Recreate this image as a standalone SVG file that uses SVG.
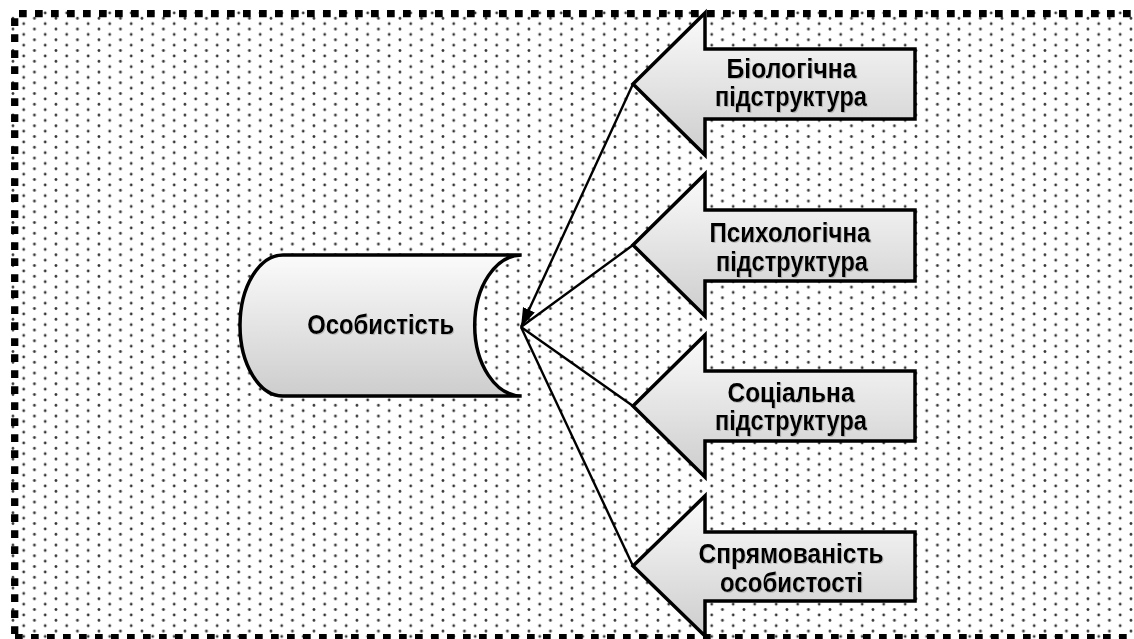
<svg xmlns="http://www.w3.org/2000/svg" width="1134" height="639" viewBox="0 0 1134 639">
<defs>
<pattern id="dots" patternUnits="userSpaceOnUse" x="2.2" y="2.2" width="21.5" height="10.75">
<circle cx="0" cy="0" r="1.4" fill="#333"/>
<circle cx="21.5" cy="0" r="1.4" fill="#333"/>
<circle cx="0" cy="10.75" r="1.4" fill="#333"/>
<circle cx="21.5" cy="10.75" r="1.4" fill="#333"/>
<circle cx="10.75" cy="5.375" r="1.4" fill="#333"/>
</pattern>
<linearGradient id="shade" x1="0" y1="0" x2="0" y2="1">
<stop offset="0" stop-color="#fbfbfb"/>
<stop offset="1" stop-color="#cdcdcd"/>
</linearGradient>
<filter id="tshadow" x="-10%" y="-30%" width="120%" height="160%">
<feDropShadow dx="1" dy="1" stdDeviation="0.7" flood-color="#888" flood-opacity="0.45"/>
</filter>
<marker id="ah" markerUnits="userSpaceOnUse" markerWidth="22" markerHeight="14" refX="19" refY="6.5" orient="auto">
<path d="M0,0 L19,6.5 L0,13 Z" fill="#000"/>
</marker>
</defs>
<style>
.border{stroke:#000;stroke-width:7.3;stroke-dasharray:7.7 8.3;fill:none}
.shape{fill:url(#shade);stroke:#000;stroke-width:3.5;stroke-linejoin:miter}
.conn{stroke:#000;stroke-width:2.4;fill:none}
.lbl{font-family:"Liberation Sans","Open Sans",sans-serif;font-weight:bold;font-size:28px;fill:#000;text-anchor:middle;filter:url(#tshadow)}
</style>
<rect x="11" y="10" width="1123" height="629" fill="url(#dots)"/>
<g id="border">
<line class="border" x1="19" y1="13.7" x2="1134" y2="13.7"/>
<line class="border" x1="14.7" y1="18.3" x2="14.7" y2="639"/>
<line class="border" x1="15" y1="637.6" x2="1134" y2="637.6"/>
</g>
<g id="connectors">
<line class="conn" x1="633" y1="84" x2="521" y2="327" marker-end="url(#ah)"/>
<line class="conn" x1="633" y1="245" x2="521" y2="327"/>
<line class="conn" x1="633" y1="406" x2="521" y2="327"/>
<line class="conn" x1="633" y1="566" x2="521" y2="327"/>
</g>
<g id="node-osobystist">
<path class="shape" d="M283,255 L521.7,255 A47,70.5 0 0 0 521.7,396 L283,396 A43,70.5 0 0 1 283,255 Z"/>
<text class="lbl" x="380.7" y="334" textLength="147" lengthAdjust="spacingAndGlyphs">Особистість</text>
</g>
<g id="node-bio">
<path class="shape" d="M633,84 L705,13 L705,49 L915,49 L915,119 L705,119 L705,155 Z"/>
<text class="lbl" x="791.5" y="77.5" textLength="130" lengthAdjust="spacingAndGlyphs">Біологічна</text>
<text class="lbl" x="791" y="106" textLength="152" lengthAdjust="spacingAndGlyphs">підструктура</text>
</g>
<g id="node-psy">
<path class="shape" d="M633,245 L705,174 L705,210 L915,210 L915,281 L705,281 L705,316 Z"/>
<text class="lbl" x="790" y="242" textLength="161" lengthAdjust="spacingAndGlyphs">Психологічна</text>
<text class="lbl" x="792" y="271" textLength="152" lengthAdjust="spacingAndGlyphs">підструктура</text>
</g>
<g id="node-soc">
<path class="shape" d="M633,406 L705,335 L705,371 L915,371 L915,441 L705,441 L705,477 Z"/>
<text class="lbl" x="791" y="402" textLength="127" lengthAdjust="spacingAndGlyphs">Соціальна</text>
<text class="lbl" x="791" y="430" textLength="152" lengthAdjust="spacingAndGlyphs">підструктура</text>
</g>
<g id="node-spr">
<path class="shape" d="M633,566 L705,496 L705,532 L915,532 L915,601 L705,601 L705,636 Z"/>
<text class="lbl" x="791" y="563" textLength="185" lengthAdjust="spacingAndGlyphs">Спрямованість</text>
<text class="lbl" x="791.5" y="592" textLength="143" lengthAdjust="spacingAndGlyphs">особистості</text>
</g>
</svg>
